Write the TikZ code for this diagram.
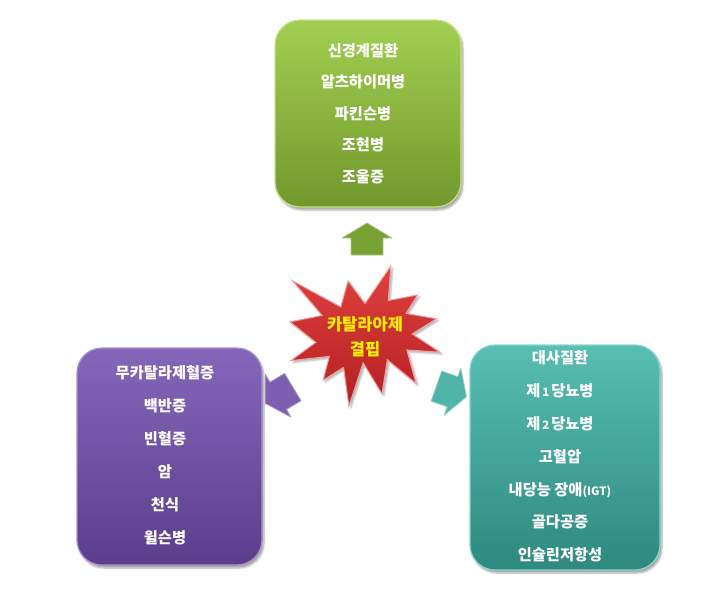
\documentclass[tikz,border=0pt]{standalone}
\usepackage{fontspec}
\newfontfamily\kr{Noto Sans CJK KR}
\usetikzlibrary{shadows.blur}
\definecolor{gtop}{HTML}{A2CF52}
\definecolor{gbot}{HTML}{72982C}
\definecolor{gedge}{HTML}{C4E28A}
\definecolor{ptop}{HTML}{8567BA}
\definecolor{pbot}{HTML}{5A3E8B}
\definecolor{pedge}{HTML}{A890D2}
\definecolor{ttop}{HTML}{58BFB3}
\definecolor{tbot}{HTML}{2E897E}
\definecolor{tedge}{HTML}{8AD6CC}
\definecolor{rtop}{HTML}{E04040}
\definecolor{rbot}{HTML}{B42020}
\definecolor{redge}{HTML}{F2A0A0}
\definecolor{startext}{HTML}{FFF000}
\tikzset{
  boxshape/.style={draw, line width=1.2pt, rounded corners=25pt,
    blur shadow={shadow xshift=2pt, shadow yshift=-3pt, shadow blur steps=6, shadow opacity=35}},
  gbox/.style={boxshape, draw=gedge, top color=gtop, bottom color=gbot},
  pbox/.style={boxshape, draw=pedge, top color=ptop, bottom color=pbot},
  tbox/.style={boxshape, draw=tedge, top color=ttop, bottom color=tbot},
  boxtext/.style={text=white, align=center, font=\kr\bfseries\fontsize{15.3}{31.5}\selectfont},
  blockarrow/.style={draw=#1!60!white, line width=0.8pt, fill=#1, line join=round}
}
\begin{document}
\begin{tikzpicture}[x=1pt,y=-1pt]
\useasboundingbox (0,0) rectangle (707,603);

% block arrows (drawn first so that boxes cover their tips)
\begin{scope}[shift={(367,223)}, x={(0pt,1pt)}, y={(1pt,0pt)}]
  \draw[blockarrow=gbot!85!gtop] (0,0) -- (-15,25) -- (-15,16) -- (-32,16) -- (-32,-16) -- (-15,-16) -- (-15,-25) -- cycle;
\end{scope}
\begin{scope}[shift={(265.4,403.5)}, x={(-0.857pt,-0.514pt)}, y={(0.514pt,-0.857pt)}]
  \draw[blockarrow=ptop!80!pbot] (0,0) -- (-15,25) -- (-15,16) -- (-32,16) -- (-32,-16) -- (-15,-16) -- (-15,-25) -- cycle;
\end{scope}
\begin{scope}[shift={(466.6,396.7)}, x={(0.943pt,-0.332pt)}, y={(0.332pt,0.943pt)}]
  \draw[blockarrow=ttop!80!tbot] (0,0) -- (-15,25) -- (-15,16) -- (-32,16) -- (-32,-16) -- (-15,-16) -- (-15,-25) -- cycle;
\end{scope}

% boxes
\node[gbox, minimum width=186pt, minimum height=187pt, inner sep=0pt] (gbox) at (368,113.5) {};
\node[boxtext] (gtext) at (363,113.5) {신경계질환\\알츠하이머병\\파킨슨병\\조현병\\조울증};

\node[pbox, minimum width=185pt, minimum height=217pt, inner sep=0pt] (pbox) at (169.5,456.5) {};
\node[boxtext, font=\kr\bfseries\fontsize{15.3}{33}\selectfont] (ptext) at (165,455.5) {무카탈라제혈증\\백반증\\빈혈증\\암\\천식\\윌슨병};

\node[tbox, minimum width=190pt, minimum height=225pt, inner sep=0pt] (tbox) at (565,457.5) {};
\node[boxtext, font=\kr\bfseries\fontsize{15.3}{32.8}\selectfont] (ttext) at (560,456.5) {대사질환\\제{\fontsize{11.5}{11}\selectfont\,1\,}당뇨병\\제{\fontsize{11.5}{11}\selectfont\,2\,}당뇨병\\고혈압\\내당능 장애{\fontsize{11.5}{11}\selectfont(IGT)}\\골다공증\\인슐린저항성};

% explosion star
\begin{scope}[shift={(290,266)}, x=0.0069444pt, y=-0.0064815pt]
  \draw[draw=redge, line width=1pt, line join=miter, top color=rtop, bottom color=rbot,
        blur shadow={shadow xshift=2pt, shadow yshift=-2pt, shadow opacity=30}]
    (10800,5800) -- (14522,0) -- (14155,5325) -- (18380,4457) -- (16702,7315) --
    (21097,8137) -- (17607,10475) -- (21600,13290) -- (16837,12942) -- (18145,18095) --
    (14020,14457) -- (13247,19737) -- (10532,14935) -- (8485,21600) -- (7715,15627) --
    (4762,17617) -- (5667,13937) -- (135,14587) -- (3722,11775) -- (0,8615) --
    (4627,7617) -- (370,2295) -- (7312,6320) -- (8352,2295) -- cycle;
\end{scope}
\node[text=startext, align=center, font=\kr\bfseries\fontsize{16.5}{25}\selectfont] (star) at (365,337) {카탈라아제\\결핍};
\end{tikzpicture}
\end{document}
